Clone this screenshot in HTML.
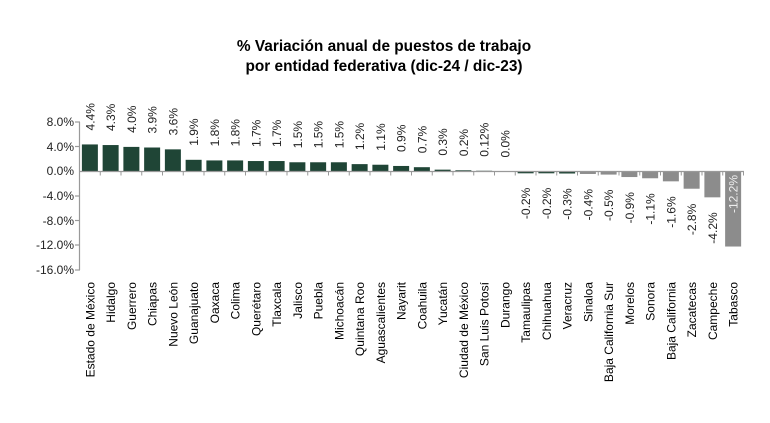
<!DOCTYPE html>
<html><head><meta charset="utf-8"><style>
html,body{margin:0;padding:0;background:#fff;}
svg{display:block;font-family:"Liberation Sans",Arial,sans-serif;}
</style></head><body>
<svg width="770" height="423" viewBox="0 0 770 423" xmlns="http://www.w3.org/2000/svg">
<text x="384" y="51" text-anchor="middle" font-size="15.4" font-weight="bold" fill="#000">% Variación anual de puestos de trabajo</text>
<text x="384" y="71" text-anchor="middle" font-size="15.4" font-weight="bold" fill="#000">por entidad federativa (dic-24 / dic-23)</text>
<g font-size="12" fill="#222" text-anchor="end">
<text x="74" y="126">8.0%</text><text x="74" y="151">4.0%</text><text x="74" y="175">0.0%</text>
<text x="74" y="200">-4.0%</text><text x="74" y="225">-8.0%</text><text x="74" y="249">-12.0%</text><text x="74" y="274">-16.0%</text>
</g>
<g stroke="#999" stroke-width="1.2">
<line x1="79.5" y1="122" x2="79.5" y2="270"/>
<line x1="75" y1="122" x2="80" y2="122"/><line x1="75" y1="146.5" x2="80" y2="146.5"/>
<line x1="75" y1="196" x2="80" y2="196"/><line x1="75" y1="220.5" x2="80" y2="220.5"/>
<line x1="75" y1="245" x2="80" y2="245"/><line x1="75" y1="270" x2="80" y2="270"/>
</g>
<g fill="#1f4536">
<rect x="81.88" y="144.44" width="16" height="27.06"/>
<rect x="102.63" y="145.05" width="16" height="26.45"/>
<rect x="123.38" y="146.9" width="16" height="24.6"/>
<rect x="144.13" y="147.51" width="16" height="23.99"/>
<rect x="164.88" y="149.36" width="16" height="22.14"/>
<rect x="185.63" y="159.81" width="16" height="11.69"/>
<rect x="206.38" y="160.43" width="16" height="11.07"/>
<rect x="227.13" y="160.43" width="16" height="11.07"/>
<rect x="247.88" y="161.04" width="16" height="10.46"/>
<rect x="268.63" y="161.04" width="16" height="10.46"/>
<rect x="289.38" y="162.27" width="16" height="9.23"/>
<rect x="310.13" y="162.27" width="16" height="9.23"/>
<rect x="330.88" y="162.27" width="16" height="9.23"/>
<rect x="351.63" y="164.12" width="16" height="7.38"/>
<rect x="372.38" y="164.73" width="16" height="6.77"/>
<rect x="393.13" y="165.96" width="16" height="5.54"/>
<rect x="413.88" y="167.19" width="16" height="4.31"/>
<rect x="434.63" y="169.65" width="16" height="1.85"/>
<rect x="455.38" y="170.27" width="16" height="1.23"/>
<rect x="476.13" y="170.76" width="16" height="0.74"/>
<rect x="517.63" y="171.5" width="16" height="1.8"/>
<rect x="538.38" y="171.5" width="16" height="1.8"/>
<rect x="559.13" y="171.5" width="16" height="2"/>
</g>
<g fill="#8c8c8c">
<rect x="579.88" y="171.5" width="16" height="2.46"/>
<rect x="600.63" y="171.5" width="16" height="3.08"/>
<rect x="621.38" y="171.5" width="16" height="5.54"/>
<rect x="642.13" y="171.5" width="16" height="6.77"/>
<rect x="662.88" y="171.5" width="16" height="9.84"/>
<rect x="683.63" y="171.5" width="16" height="17.22"/>
<rect x="704.38" y="171.5" width="16" height="25.83"/>
<rect x="725.13" y="171.5" width="16" height="75.03"/>
</g>
<line x1="79.5" y1="171.5" x2="744" y2="171.5" stroke="#999" stroke-width="1.2"/>
<path stroke="#999" fill="none" d="M100.25 171.5v4M121 171.5v4M141.75 171.5v4M162.5 171.5v4M183.25 171.5v4M204 171.5v4M224.75 171.5v4M245.5 171.5v4M266.25 171.5v4M287 171.5v4M307.75 171.5v4M328.5 171.5v4M349.25 171.5v4M370 171.5v4M390.75 171.5v4M411.5 171.5v4M432.25 171.5v4M453 171.5v4M473.75 171.5v4M494.5 171.5v4M515.25 171.5v4M536 171.5v4M556.75 171.5v4M577.5 171.5v4M598.25 171.5v4M619 171.5v4M639.75 171.5v4M660.5 171.5v4M681.25 171.5v4M702 171.5v4M722.75 171.5v4M743.5 171.5v4"/>
<g font-size="12" fill="#222">
<text transform="translate(94.38,130.44) rotate(-90)">4.4%</text>
<text transform="translate(115.13,131.05) rotate(-90)">4.3%</text>
<text transform="translate(135.88,132.9) rotate(-90)">4.0%</text>
<text transform="translate(156.63,133.51) rotate(-90)">3.9%</text>
<text transform="translate(177.38,135.36) rotate(-90)">3.6%</text>
<text transform="translate(198.13,145.81) rotate(-90)">1.9%</text>
<text transform="translate(218.88,146.43) rotate(-90)">1.8%</text>
<text transform="translate(239.63,146.43) rotate(-90)">1.8%</text>
<text transform="translate(260.38,147.04) rotate(-90)">1.7%</text>
<text transform="translate(281.13,147.04) rotate(-90)">1.7%</text>
<text transform="translate(301.88,148.27) rotate(-90)">1.5%</text>
<text transform="translate(322.63,148.27) rotate(-90)">1.5%</text>
<text transform="translate(343.38,148.27) rotate(-90)">1.5%</text>
<text transform="translate(364.13,150.12) rotate(-90)">1.2%</text>
<text transform="translate(384.88,150.73) rotate(-90)">1.1%</text>
<text transform="translate(405.63,151.96) rotate(-90)">0.9%</text>
<text transform="translate(426.38,153.19) rotate(-90)">0.7%</text>
<text transform="translate(447.13,155.65) rotate(-90)">0.3%</text>
<text transform="translate(467.88,156.27) rotate(-90)">0.2%</text>
<text transform="translate(488.63,156.76) rotate(-90)">0.12%</text>
<text transform="translate(509.38,157.5) rotate(-90)">0.0%</text>
</g>
<g font-size="12" fill="#222" text-anchor="end">
<text transform="translate(530.13,187.73) rotate(-90)">-0.2%</text>
<text transform="translate(550.88,187.73) rotate(-90)">-0.2%</text>
<text transform="translate(571.63,188.35) rotate(-90)">-0.3%</text>
<text transform="translate(592.38,188.96) rotate(-90)">-0.4%</text>
<text transform="translate(613.13,189.58) rotate(-90)">-0.5%</text>
<text transform="translate(633.88,192.04) rotate(-90)">-0.9%</text>
<text transform="translate(654.63,193.27) rotate(-90)">-1.1%</text>
<text transform="translate(675.38,196.34) rotate(-90)">-1.6%</text>
<text transform="translate(696.13,203.72) rotate(-90)">-2.8%</text>
<text transform="translate(716.88,212.33) rotate(-90)">-4.2%</text>
<text transform="translate(737.63,175) rotate(-90)" fill="#eee">-12.2%</text>
</g>
<g font-size="12" fill="#000" text-anchor="end">
<text transform="translate(94.38,282) rotate(-90)">Estado de México</text>
<text transform="translate(115.13,282) rotate(-90)">Hidalgo</text>
<text transform="translate(135.88,282) rotate(-90)">Guerrero</text>
<text transform="translate(156.63,282) rotate(-90)">Chiapas</text>
<text transform="translate(177.38,282) rotate(-90)">Nuevo León</text>
<text transform="translate(198.13,282) rotate(-90)">Guanajuato</text>
<text transform="translate(218.88,282) rotate(-90)">Oaxaca</text>
<text transform="translate(239.63,282) rotate(-90)">Colima</text>
<text transform="translate(260.38,282) rotate(-90)">Querétaro</text>
<text transform="translate(281.13,282) rotate(-90)">Tlaxcala</text>
<text transform="translate(301.88,282) rotate(-90)">Jalisco</text>
<text transform="translate(322.63,282) rotate(-90)">Puebla</text>
<text transform="translate(343.38,282) rotate(-90)">Michoacán</text>
<text transform="translate(364.13,282) rotate(-90)">Quintana Roo</text>
<text transform="translate(384.88,282) rotate(-90)">Aguascalientes</text>
<text transform="translate(405.63,282) rotate(-90)">Nayarit</text>
<text transform="translate(426.38,282) rotate(-90)">Coahuila</text>
<text transform="translate(447.13,282) rotate(-90)">Yucatán</text>
<text transform="translate(467.88,282) rotate(-90)">Ciudad de México</text>
<text transform="translate(488.63,282) rotate(-90)">San Luis Potosí</text>
<text transform="translate(509.38,282) rotate(-90)">Durango</text>
<text transform="translate(530.13,282) rotate(-90)">Tamaulipas</text>
<text transform="translate(550.88,282) rotate(-90)">Chihuahua</text>
<text transform="translate(571.63,282) rotate(-90)">Veracruz</text>
<text transform="translate(592.38,282) rotate(-90)">Sinaloa</text>
<text transform="translate(613.13,282) rotate(-90)">Baja California Sur</text>
<text transform="translate(633.88,282) rotate(-90)">Morelos</text>
<text transform="translate(654.63,282) rotate(-90)">Sonora</text>
<text transform="translate(675.38,282) rotate(-90)">Baja California</text>
<text transform="translate(696.13,282) rotate(-90)">Zacatecas</text>
<text transform="translate(716.88,282) rotate(-90)">Campeche</text>
<text transform="translate(737.63,282) rotate(-90)">Tabasco</text>
</g>
</svg>
</body></html>
